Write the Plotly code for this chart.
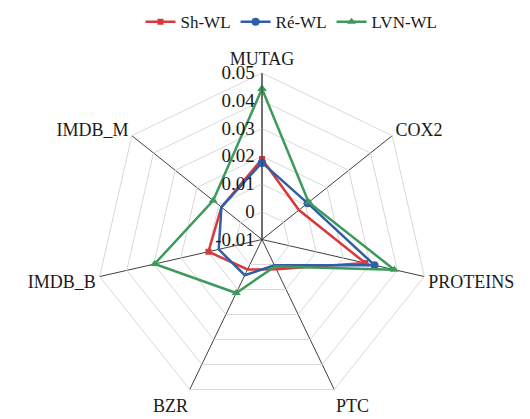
import plotly.graph_objects as go

categories = ["MUTAG", "COX2", "PROTEINS", "PTC", "BZR", "IMDB_B", "IMDB_M"]
sh_wl = [0.019, 0.007, 0.0282, 0.0019, 0.0020, 0.0098, 0.0087]
re_wl = [0.0177, 0.011, 0.0316, 0.0003, 0.0043, 0.0060, 0.0087]
lvn_wl = [0.0443, 0.0115, 0.0389, 0.0008, 0.0114, 0.0297, 0.0125]
tick_vals = [-0.01, 0, 0.01, 0.02, 0.03, 0.04, 0.05]
tick_text = ["-0.01", "0", "0.01", "0.02", "0.03", "0.04", "0.05"]

series = [
    ("Sh-WL", sh_wl, "#d8393b", "square", 6),
    ("Ré-WL", re_wl, "#2f5fa7", "circle", 8),
    ("LVN-WL", lvn_wl, "#3c9a5c", "triangle-up", 8),
]

FONT = "Liberation Serif, Times New Roman, serif"

fig = go.Figure()
for name, vals, color, sym, size in series:
    fig.add_trace(go.Scatterpolar(
        r=vals + [vals[0]],
        theta=categories + [categories[0]],
        mode="lines+markers",
        name=name,
        line=dict(color=color, width=2.5),
        marker=dict(symbol=sym, size=size, color=color),
    ))

fig.update_layout(
    width=530, height=419,
    margin=dict(l=0, r=0, t=0, b=0),
    paper_bgcolor="white",
    plot_bgcolor="white",
    font=dict(family=FONT, size=18, color="#1a1a1a"),
    showlegend=True,
    legend=dict(orientation="h", x=0.55, xanchor="center", y=0.99, yanchor="top",
                font=dict(family=FONT, size=17), itemwidth=30),
    polar=dict(
        domain=dict(x=[95/530, 429/530], y=[1-406/419, 1-73/419]),
        gridshape="linear",
        bgcolor="white",
        radialaxis=dict(
            range=[-0.01, 0.05],
            tickvals=tick_vals,
            ticktext=tick_text,
            angle=90,
            tickangle=90,
            side="counterclockwise",
            showline=True,
            linecolor="#404040",
            linewidth=1,
            gridcolor="#d9d9d9",
            gridwidth=1,
            ticks="",
            tickfont=dict(family=FONT, size=19),
        ),
        angularaxis=dict(
            direction="clockwise",
            rotation=90,
            linecolor="#d9d9d9",
            linewidth=1,
            gridcolor="#404040",
            gridwidth=1,
            ticks="",
            tickfont=dict(family=FONT, size=18),
        ),
    ),
)

fig.write_html("out.html")
